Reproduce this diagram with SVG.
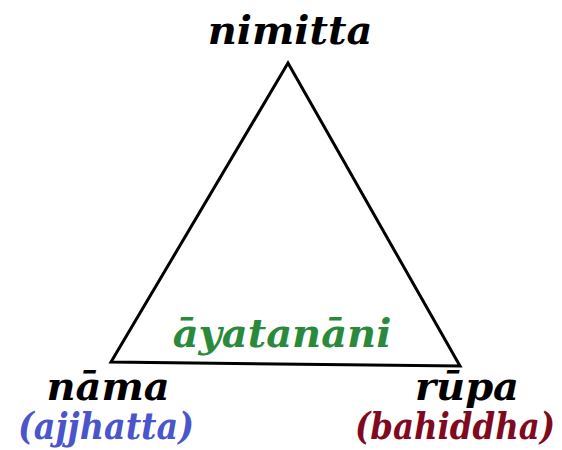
<svg xmlns="http://www.w3.org/2000/svg" width="562" height="450" viewBox="0 0 562 450">
<style>
text{font-family:"DejaVu Serif","Liberation Serif",serif;font-weight:bold;font-style:italic;text-anchor:middle;font-size:40px}
text.s{font-size:37px}
.k{fill:#000}
.g{fill:#2a8a3c}
.b{fill:#4a55cc}
.r{fill:#7f0a20}
</style>
<g id="connectors">
<polygon points="288,63 111,362 460,366" fill="none" stroke="#000" stroke-width="3" stroke-linejoin="miter"/>
</g>
<g id="nimitta"><text class="k" x="290" y="44">nimitta</text></g>
<g id="ayatanani"><text class="g" x="282" y="347">āyatanāni</text></g>
<g id="nama"><text class="k" x="108" y="400">nāma</text><text class="b s" x="106" y="439" textLength="176" lengthAdjust="spacingAndGlyphs">(ajjhatta)</text></g>
<g id="rupa"><text class="k" x="467" y="400">rūpa</text><text class="r s" x="455" y="439" textLength="200" lengthAdjust="spacingAndGlyphs">(bahiddha)</text></g>
</svg>
